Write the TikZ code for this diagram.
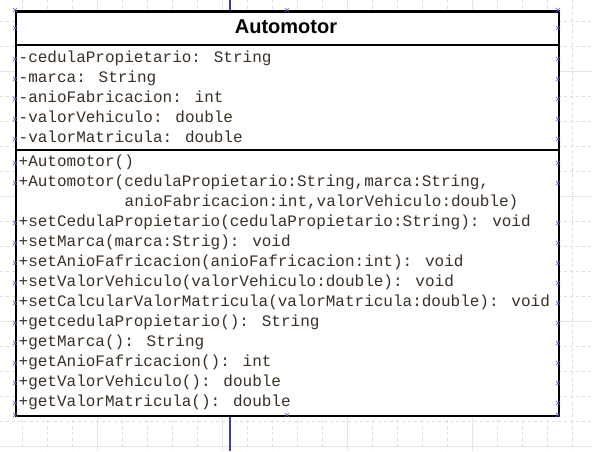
\documentclass[tikz,border=0pt]{standalone}
\usepackage{fontspec}
\newfontfamily\umlmono{Liberation Mono}
\newfontfamily\umltitle{Liberation Sans}
\definecolor{gridc}{RGB}{214,224,224}
\definecolor{gridmaj}{RGB}{222,232,232}
\definecolor{txt}{RGB}{58,48,38}
\definecolor{handle}{RGB}{90,90,220}
\definecolor{wire}{RGB}{60,60,170}
\tikzset{
  gridminor/.style={gridc, line width=0.9pt, dash pattern=on 3pt off 3pt},
  gridmajor/.style={gridmaj, line width=1pt},
  row/.style={anchor=mid west, inner sep=0pt, font=\umlmono\fontsize{16}{16}\selectfont, text=txt},
  handlemark/.style={handle, line width=0.6pt},
  divider/.style={black, line width=2pt},
}
\newcommand{\hmark}[2]{\draw[handlemark] (#1-2.2,#2-2.2) -- (#1+2.2,#2+2.2) (#1-2.2,#2+2.2) -- (#1+2.2,#2-2.2);}
\begin{document}
\begin{tikzpicture}[x=1pt,y=-1pt]
\useasboundingbox (0,0) rectangle (592,451);
\fill[white] (0,0) rectangle (592,451);
% grid
\foreach \x in {22,47,...,597} \draw[gridminor] (\x,0) -- (\x,451);
\foreach \y in {21,46,...,450} \draw[gridminor] (0,\y) -- (592,\y);
\foreach \x in {97,222,347,472} \draw[gridmajor] (\x,0) -- (\x,451);
\foreach \y in {71,196,321,446} \draw[gridmajor] (0,\y) -- (592,\y);
% connector wire
\coordinate (wtop) at (230,0);
\coordinate (wbot) at (230,451);
% class box
\node (box) [draw, fill=white, line width=2.6pt, minimum width=543pt, minimum height=404.5pt, anchor=north west, inner sep=0pt] at (14.5,10) {};
\draw[wire, line width=1.2pt] (wtop) -- (wtop |- box.north);
\draw[wire, line width=1.2pt] (wbot) -- (wbot |- box.south);
\draw[divider] (box.west |- 0,44.5) -- (box.east |- 0,44.5);
\draw[divider] (box.west |- 0,150) -- (box.east |- 0,150);
% title
\node (title) [inner sep=0pt, font=\umltitle\bfseries\fontsize{20}{20}\selectfont] at (286,27) {Automotor};
% attributes
\node (a1) [row] at (18.5,60) {-cedulaPropietario: String};
\node (a2) [row] at (18.5,80) {-marca: String};
\node (a3) [row] at (18.5,100) {-anioFabricacion: int};
\node (a4) [row] at (18.5,120) {-valorVehiculo: double};
\node (a5) [row] at (18.5,140) {-valorMatricula: double};
% methods
\node (m1) [row] at (18.5,164) {+Automotor()};
\node (m2) [row] at (18.5,184) {+Automotor(cedulaPropietario:String,marca:String,};
\node (m2b) [row] at (124.5,204) {anioFabricacion:int,valorVehiculo:double)};
\node (m3) [row] at (18.5,224) {+setCedulaPropietario(cedulaPropietario:String): void};
\node (m4) [row] at (18.5,244) {+setMarca(marca:Strig): void};
\node (m5) [row] at (18.5,264) {+setAnioFafricacion(anioFafricacion:int): void};
\node (m6) [row] at (18.5,284) {+setValorVehiculo(valorVehiculo:double): void};
\node (m7) [row] at (18.5,304) {+setCalcularValorMatricula(valorMatricula:double): void};
\node (m8) [row] at (18.5,324) {+getcedulaPropietario(): String};
\node (m9) [row] at (18.5,344) {+getMarca(): String};
\node (m10) [row] at (18.5,364) {+getAnioFafricacion(): int};
\node (m11) [row] at (18.5,384) {+getValorVehiculo(): double};
\node (m12) [row] at (18.5,404) {+getValorMatricula(): double};
% selection handles
\foreach \y in {10,28,59,79,99,119,139,163,183,223,243,263,283,303,323,343,363,383,403,415} {
  \hmark{15}{\y}
  \hmark{558}{\y}
}
\hmark{287}{10}
\hmark{287}{415}
\end{tikzpicture}
\end{document}
